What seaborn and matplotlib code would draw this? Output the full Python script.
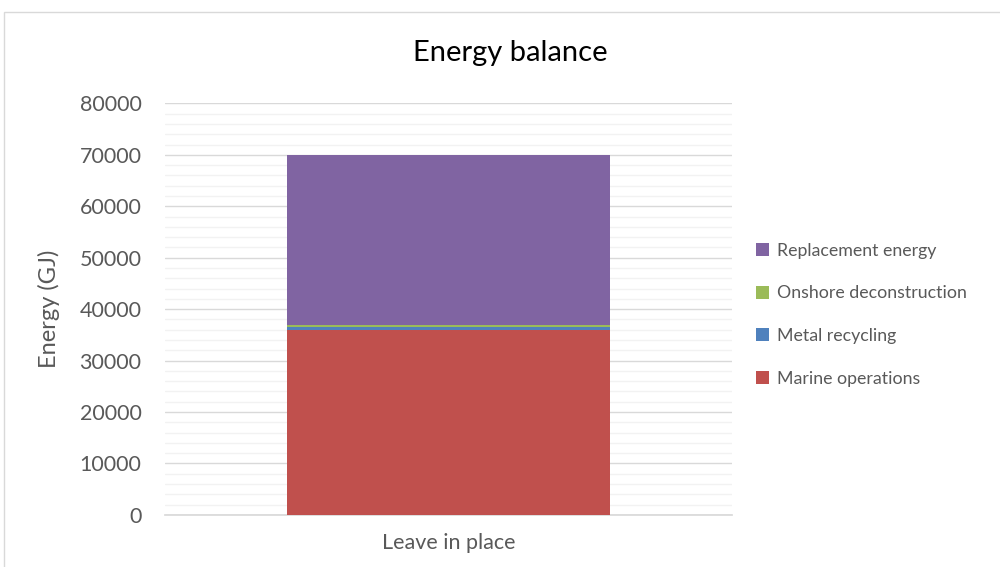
import numpy as np
import pandas as pd
import matplotlib
matplotlib.use("Agg")
import matplotlib.pyplot as plt
from matplotlib.patches import Rectangle, Patch
import seaborn as sns

# Energy components for the single decommissioning option (GJ)
categories = ["Leave in place"]
series_names = ["Marine operations", "Metal recycling", "Onshore deconstruction", "Replacement energy"]
marine_operations = [36000]
metal_recycling = [600]
onshore_deconstruction = [400]
replacement_energy = [33000]
colors = ["#C0504D", "#4F81BD", "#9BBB59", "#8064A2"]
y_ticks = [0, 10000, 20000, 30000, 40000, 50000, 60000, 70000, 80000]

sns.set_theme(style="white")
plt.rcParams["font.family"] = ["Lato", "DejaVu Sans"]

df = pd.DataFrame({
    "category": categories,
    "Marine operations": marine_operations,
    "Metal recycling": metal_recycling,
    "Onshore deconstruction": onshore_deconstruction,
    "Replacement energy": replacement_energy,
})

fig = plt.figure(figsize=(10, 5.67), dpi=100)
ax = fig.add_axes([0.165, 0.092, 0.567, 0.7255])

# Outer chart frame
fig.patches.append(Rectangle((0.004, -0.1), 1.2, 0.1 + (567 - 12) / 567,
                             transform=fig.transFigure, fill=False,
                             edgecolor="#D9D9D9", linewidth=1.0, zorder=0))

# Stacked bars: draw cumulative totals from the top layer down
cum = df[series_names].cumsum(axis=1)
for name, color in reversed(list(zip(series_names, colors))):
    sns.barplot(x=df["category"], y=cum[name], color=color, width=0.571,
                saturation=1, ax=ax, zorder=3, linewidth=0)

ax.set_xlim(-0.5, 0.5)
ax.set_ylim(0, 80000)
ax.set_yticks(y_ticks)
ax.set_yticklabels([str(t) for t in y_ticks])
ax.set_yticks(np.arange(0, 80001, 2000), minor=True)
ax.grid(axis="y", which="major", color="#D9D9D9", linewidth=1.0, zorder=0)
ax.grid(axis="y", which="minor", color="#F2F2F2", linewidth=1.0, zorder=0)
ax.grid(axis="x", visible=False)
for s in ["top", "right", "left"]:
    ax.spines[s].set_visible(False)
ax.spines["bottom"].set_color("#D9D9D9")
ax.tick_params(axis="both", which="both", length=0, colors="#595959", labelsize=15.5)
ax.tick_params(axis="y", pad=17)
ax.tick_params(axis="x", pad=13)
ax.set_xlabel("")
ax.set_ylabel("Energy (GJ)", fontsize=17, color="#595959", labelpad=14)

fig.text(0.51, 0.906, "Energy balance", ha="center", va="center",
         fontsize=21, color="#000000")

handles = [Patch(facecolor=c, edgecolor="none") for c in reversed(colors)]
labels = list(reversed(series_names))
fig.legend(handles, labels, loc="center left", bbox_to_anchor=(0.740, 0.445),
           frameon=False, fontsize=12.8, labelcolor="#595959",
           handlelength=0.75, handleheight=0.75, handletextpad=0.45,
           labelspacing=1.5)

fig.savefig("out.png", dpi=100)
